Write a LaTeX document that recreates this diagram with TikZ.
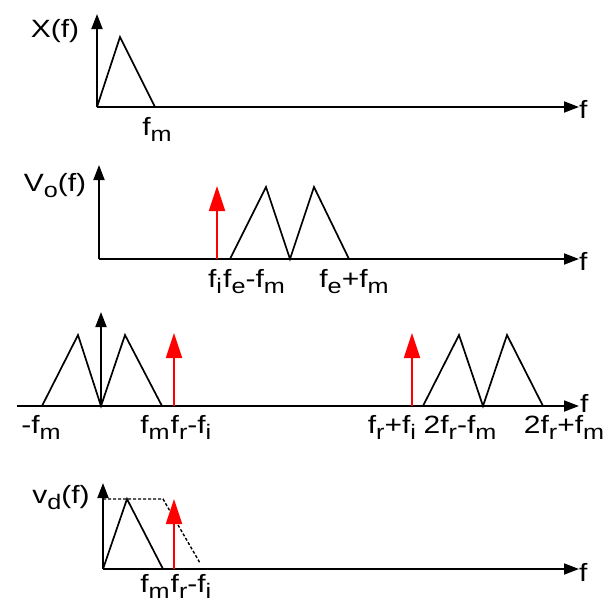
\documentclass[tikz,border=0pt]{standalone}
\usepackage{fontspec}
\setmainfont{Liberation Sans}[FakeStretch=1.2]
\usetikzlibrary{arrows.meta}

\newcommand{\sub}[1]{\raisebox{-0.25em}{\fontsize{21}{21}\selectfont #1}}

\begin{document}
\begin{tikzpicture}[
        x=1pt, y=-1pt,
        eje/.style={line width=1.8pt, -{Triangle[length=15pt, width=11pt]}},
        delta/.style={red, line width=1.8pt, -{Triangle[length=25pt, width=16pt]}},
        espectro/.style={line width=1.7pt},
        filtro/.style={line width=1.4pt, dash pattern=on 3pt off 2pt},
        etiq/.style={font=\fontsize{25}{27}\selectfont, anchor=base, inner sep=0pt}
    ]
        \useasboundingbox (0,0) rectangle (608,603);

        % Espectro X(f)
        \coordinate (o1) at (97,107);
        \coordinate (y1) at (97,14);
        \coordinate (x1) at (579,107);
        \draw[eje] (o1) -- (y1);
        \draw[eje] (o1) -- (x1);
        \draw[espectro] (o1) -- (120,37) -- (155,107);
        \node[etiq] (lx) at (55,37) {X(f)};
        \node[etiq, anchor=base west] (f1) at (579,118) {f};
        \node[etiq] (fm1) at (157,135) {f\sub{m}};

        % Espectro Vo(f)
        \coordinate (o2) at (99,259);
        \coordinate (y2) at (99,165);
        \coordinate (x2) at (579,259);
        \coordinate (d2b) at (217,259);
        \coordinate (d2t) at (217,186);
        \draw[eje] (o2) -- (y2);
        \draw[eje] (o2) -- (x2);
        \draw[delta] (d2b) -- (d2t);
        \draw[espectro] (230,259) -- (266,187) -- (290,259) -- (314,187) -- (349,259);
        \node[etiq] (lv) at (55,191) {V\sub{o}(f)};
        \node[etiq] (fi2) at (215,287) {f\sub{i}};
        \node[etiq] (few) at (254,287) {f\sub{e}-f\sub{m}};
        \node[etiq] (fes) at (354,287) {f\sub{e}+f\sub{m}};
        \node[etiq, anchor=base west] (f2) at (579,270) {f};

        % Espectro tras el mezclador
        \coordinate (o3) at (101,406);
        \coordinate (y3) at (101,312);
        \coordinate (x3i) at (17,406);
        \coordinate (x3) at (579,406);
        \coordinate (d3ab) at (174,406);
        \coordinate (d3at) at (174,333);
        \coordinate (d3bb) at (412,406);
        \coordinate (d3bt) at (412,333);
        \draw[eje] (o3) -- (y3);
        \draw[eje] (x3i) -- (x3);
        \draw[delta] (d3ab) -- (d3at);
        \draw[delta] (d3bb) -- (d3bt);
        \draw[espectro] (42,406) -- (78,335) -- (101,406) -- (125,335) -- (162,406);
        \draw[espectro] (423,406) -- (459,335) -- (483,406) -- (507,335) -- (543,406);
        \node[etiq, anchor=base west] (f3) at (580,412) {f};
        \node[etiq] (mfm) at (41,433) {-f\sub{m}};
        \node[etiq] (fm3) at (155,433) {f\sub{m}};
        \node[etiq] (frw) at (191,433) {f\sub{r}-f\sub{i}};
        \node[etiq] (frs) at (392,433) {f\sub{r}+f\sub{i}};
        \node[etiq] (dfw) at (460,433) {2f\sub{r}-f\sub{m}};
        \node[etiq] (dfs) at (564,433) {2f\sub{r}+f\sub{m}};

        % Espectro vd(f) con el filtro
        \coordinate (o4) at (103,569);
        \coordinate (y4) at (103,483);
        \coordinate (x4) at (579,569);
        \coordinate (d4b) at (174,569);
        \coordinate (d4t) at (174,499);
        \draw[eje] (o4) -- (y4);
        \draw[eje] (o4) -- (x4);
        \draw[espectro] (o4) -- (127,499) -- (163,569);
        \draw[filtro] (103,499) -- (163,499) -- (200,563);
        \draw[delta] (d4b) -- (d4t);
        \node[etiq] (lvd) at (61,503) {v\sub{d}(f)};
        \node[etiq, anchor=base west] (f4) at (579,581) {f};
        \node[etiq] (fm4) at (155,592) {f\sub{m}};
        \node[etiq] (frw4) at (191,592) {f\sub{r}-f\sub{i}};
    \end{tikzpicture}
\end{document}
